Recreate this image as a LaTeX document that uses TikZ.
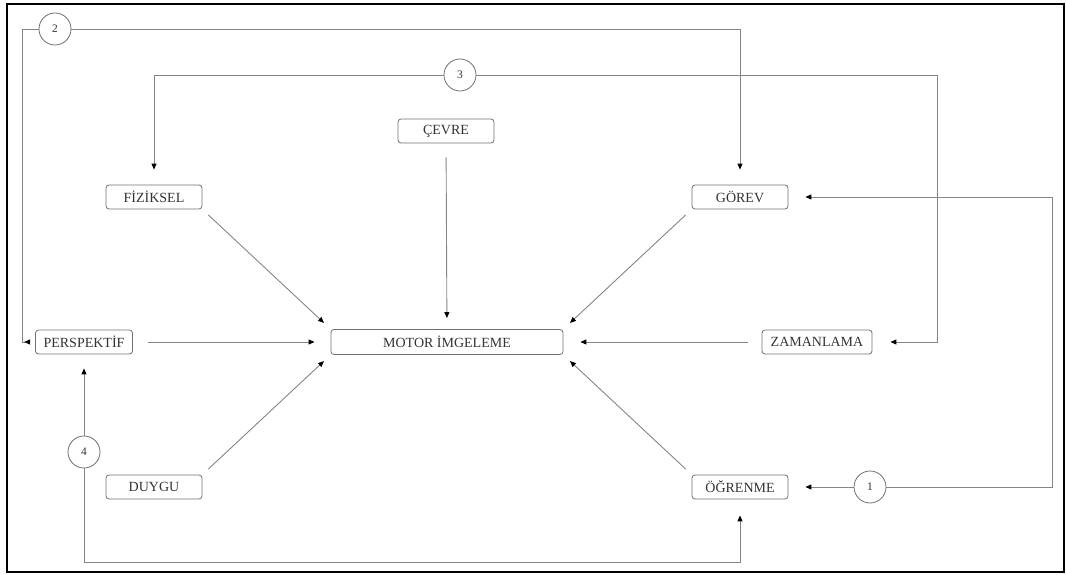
\documentclass[tikz,border=0pt]{standalone}
\usepackage{fontspec}
\setmainfont{Liberation Serif}
\usetikzlibrary{arrows.meta}
\definecolor{boxgray}{HTML}{707070}
\definecolor{linegray}{HTML}{858585}
\definecolor{txtgray}{HTML}{333333}
\begin{document}
\begin{tikzpicture}[x=1pt,y=-1pt,
  box/.style={draw=boxgray, rounded corners=3pt, line width=0.8pt,
    minimum width=96pt, minimum height=24pt, inner sep=0pt,
    font=\fontsize{14}{16}\selectfont, text=txtgray},
  num/.style={circle, draw=boxgray, line width=0.8pt, minimum size=32pt,
    inner sep=0pt, font=\fontsize{11.5}{13}\selectfont, text=txtgray},
  link/.style={draw=linegray, line width=0.9pt},
  tip/.style={-{Triangle[length=6pt,width=5pt,color=black]}},
  arr/.style={link, tip},
  backtip/.style={link, -{Triangle[reversed,length=6pt,width=5pt,color=black]}},
]
\useasboundingbox (0,0) rectangle (1066,575);
\draw[line width=2.5pt] (7,4) rectangle (1064,572);

% factor boxes
\node[box] (cevre) at (446,131) {ÇEVRE};
\node[box] (fiz)   at (154,197) {FİZİKSEL};
\node[box] (gorev) at (740,197) {GÖREV};
\node[box, minimum width=97pt] (persp) at (84,342) {PERSPEKTİF};
\node[box, minimum width=232pt, minimum height=25pt] (motor) at (447,342) {MOTOR İMGELEME};
\node[box, minimum width=110pt] (zaman) at (817,342) {ZAMANLAMA};
\node[box] (duygu) at (154,487) {DUYGU};
\node[box] (ogr)   at (740,487) {ÖĞRENME};

% numbered links
\node[num] (c1) at (870,487) {1};
\node[num] (c2) at (55,29)   {2};
\node[num] (c3) at (460,75)  {3};
\node[num] (c4) at (84,452)  {4};

% corner points of the feedback loops
\coordinate (r1) at (1052,487);
\coordinate (l2) at (22,29);
\coordinate (r3) at (937,75);
\coordinate (b4) at (84,562);

% arrows into the centre
\draw[arr, shorten <=14pt, shorten >=11pt] (cevre) -- (motor);
\draw[arr, shorten <=8pt, shorten >=9pt] (fiz.south east) -- (motor.north west);
\draw[arr, shorten <=8pt, shorten >=9pt] (gorev.south west) -- (motor.north east);
\draw[arr, shorten <=8pt, shorten >=9pt] (duygu.north east) -- (motor.south west);
\draw[arr, shorten <=8pt, shorten >=9pt] (ogr.north west) -- (motor.south east);
\draw[arr, shorten <=15pt, shorten >=16pt] (persp.east) -- (motor.west);
\draw[arr, shorten <=14pt, shorten >=17pt] (zaman.west) -- (motor.east);

% loop 1
\draw[arr, shorten >=17pt] (c1.west) -- (ogr.east);
\draw[arr, shorten >=17pt] (c1.east) -- (r1) |- (gorev.east);

% loop 2
\draw[backtip, shorten >=5pt] (c2.west) -- (l2) |- (persp.west);
\draw[arr, shorten >=15pt] (c2.east) -| (gorev.north);

% loop 3
\draw[arr, shorten >=15pt] (c3.west) -| (fiz.north);
\draw[arr, shorten >=18pt] (c3.east) -- (r3) |- (zaman.east);

% loop 4
\draw[arr, shorten >=14pt] (c4.north) -- (persp.south);
\draw[arr, shorten >=16pt] (c4.south) -- (b4) -| (ogr.south);
\end{tikzpicture}
\end{document}
